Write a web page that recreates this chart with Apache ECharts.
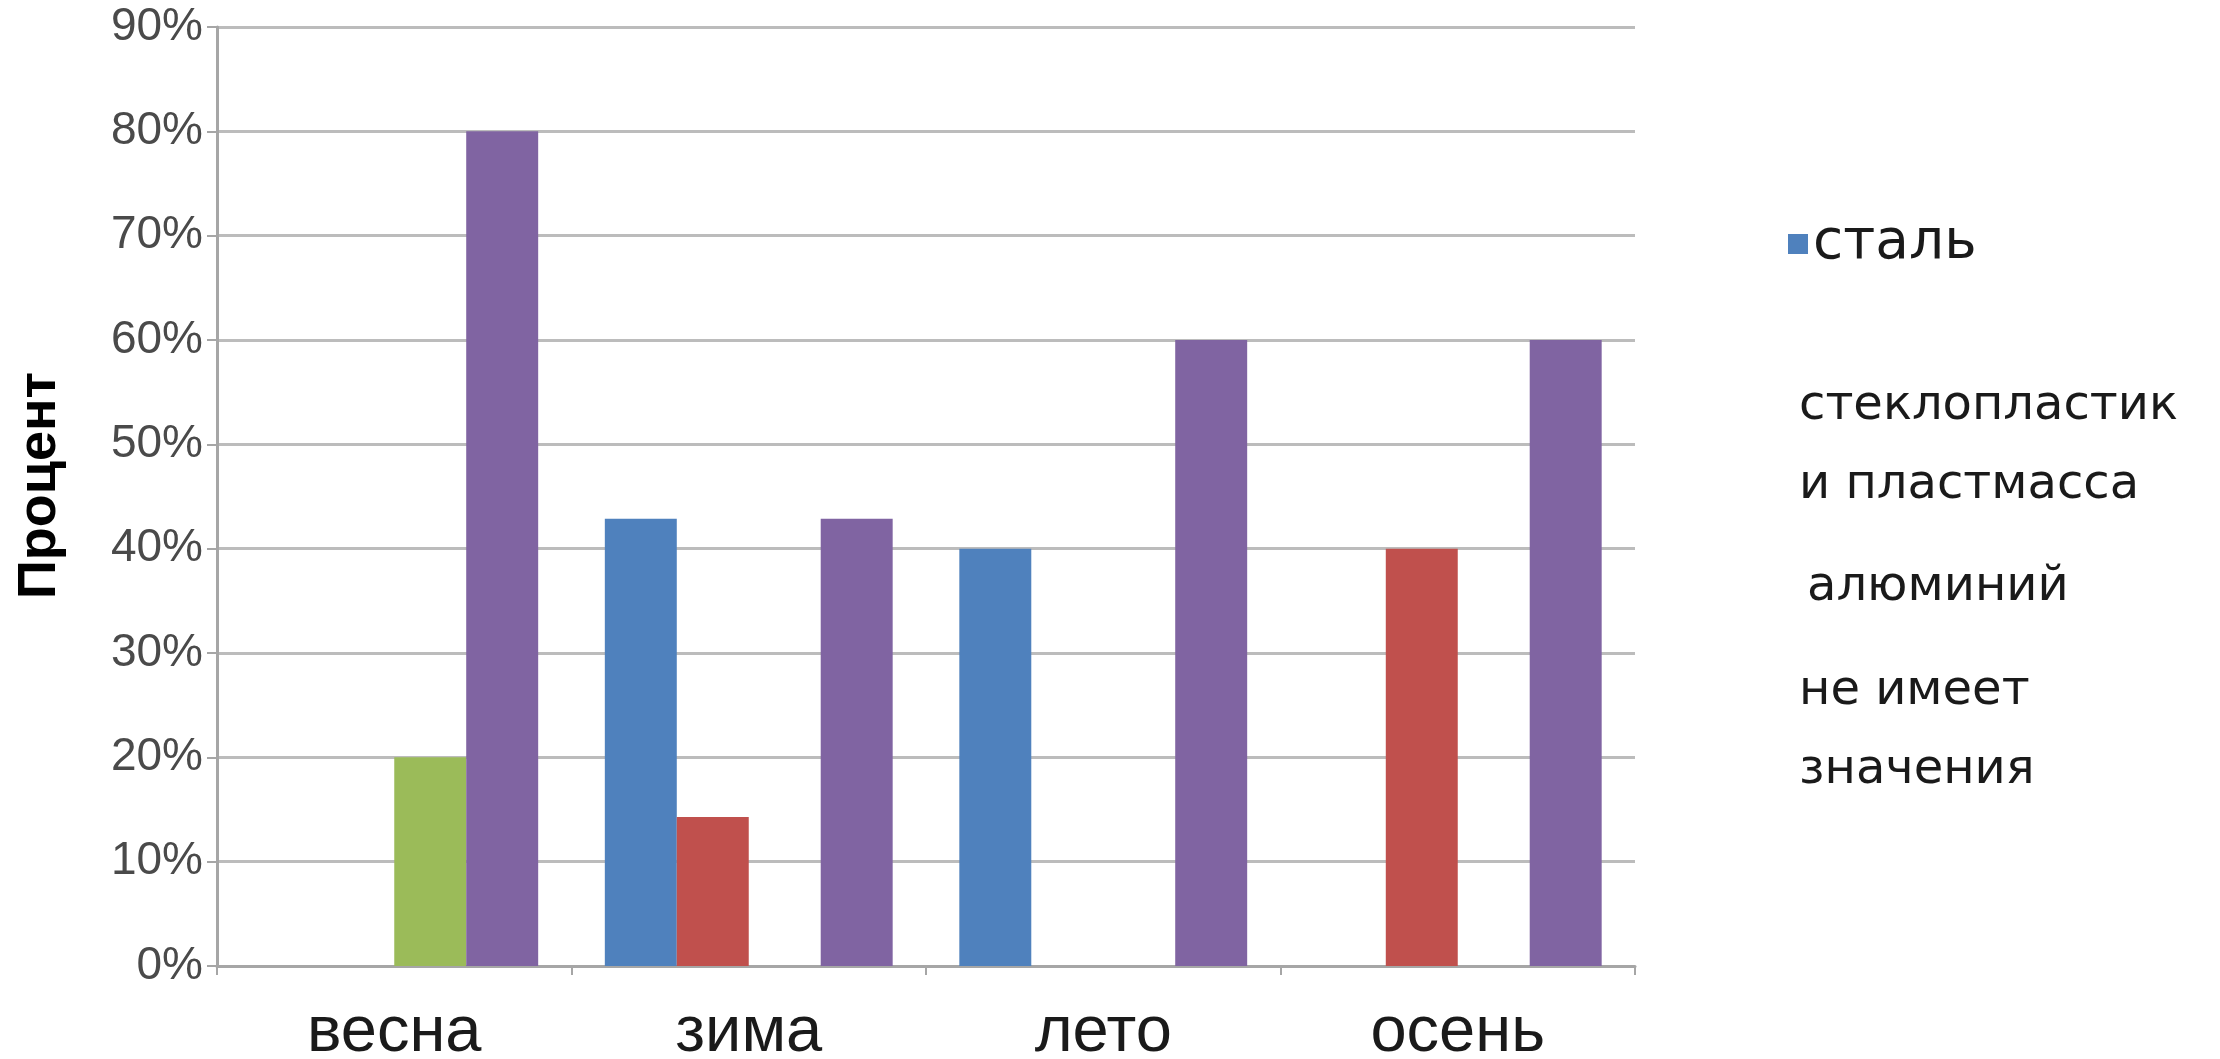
<!DOCTYPE html>
<html>
<head>
<meta charset="utf-8">
<script src="https://cdn.jsdelivr.net/npm/echarts@6/dist/echarts.min.js"></script>
<style>
html,body{margin:0;padding:0;background:#fff;}
#chart{width:2220px;height:1059px;}
</style>
</head>
<body>
<div id="chart"></div>
<script>
// ---- data ----
const categories = ['весна', 'зима', 'лето', 'осень'];
const seriesNames = ['сталь', 'стеклопластик и пластмасса', 'алюминий', 'не имеет значения'];
const steel = [0, 42.86, 40, 0];
const fiberglassPlastic = [0, 14.29, 0, 40];
const aluminium = [20, 0, 0, 0];
const noMatter = [80, 42.86, 60, 60];
const yTicks = [0, 10, 20, 30, 40, 50, 60, 70, 80, 90];

// ---- style ----
const colors = ['#4f81bd', '#c0504d', '#9bbb59', '#8064a2'];
const legendDisplay = {
  'сталь': 'сталь',
  'стеклопластик и пластмасса': 'стеклопластик\nи пластмасса',
  'алюминий': 'алюминий',
  'не имеет значения': 'не имеет\nзначения'
};

const values = [steel, fiberglassPlastic, aluminium, noMatter];
const series = seriesNames.map((n, i) => ({
  name: n,
  type: 'bar',
  data: values[i],
  barGap: '0%',
  barCategoryGap: '18.8%',
  itemStyle: { color: colors[i], borderWidth: 0 },
  emphasis: { disabled: true }
}));

const legendText = { fontFamily: 'DejaVu Sans', fontSize: 48, color: '#1a1a1a', lineHeight: 79 };
const hiddenIcon = { color: 'rgba(0,0,0,0)', borderWidth: 0, opacity: 0 };

const legends = [
  {
    left: 1788, top: 197, padding: 0,
    itemWidth: 20, itemHeight: 20,
    selectedMode: false,
    data: [{ name: seriesNames[0], icon: 'rect' }],
    formatter: n => legendDisplay[n],
    textStyle: { fontFamily: 'DejaVu Sans', fontSize: 55, color: '#1a1a1a', lineHeight: 66, padding: [28, 0, 0, 0] }
  },
  {
    left: 1784, top: 367, padding: 0,
    itemWidth: 10, itemHeight: 10,
    selectedMode: false,
    data: [{ name: seriesNames[1], icon: 'rect', itemStyle: hiddenIcon }],
    formatter: n => legendDisplay[n],
    textStyle: legendText
  },
  {
    left: 1792, top: 548, padding: 0,
    itemWidth: 10, itemHeight: 10,
    selectedMode: false,
    data: [{ name: seriesNames[2], icon: 'rect', itemStyle: hiddenIcon }],
    formatter: n => legendDisplay[n],
    textStyle: legendText
  },
  {
    left: 1784, top: 652, padding: 0,
    itemWidth: 10, itemHeight: 10,
    selectedMode: false,
    data: [{ name: seriesNames[3], icon: 'rect', itemStyle: hiddenIcon }],
    formatter: n => legendDisplay[n],
    textStyle: legendText
  }
];

const axisGray = '#a6a6a6';
const option = {
  animation: false,
  backgroundColor: '#ffffff',
  color: colors,
  grid: { left: 217, right: 585, top: 27, bottom: 93, containLabel: false, outerBoundsMode: 'none' },
  legend: legends,
  xAxis: {
    type: 'category',
    data: categories,
    axisLine: { show: true, lineStyle: { color: axisGray, width: 3 } },
    axisTick: { show: true, length: 9, lineStyle: { color: axisGray, width: 2 } },
    axisLabel: {
      interval: 0,
      margin: 35,
      fontFamily: "'Liberation Sans', sans-serif",
      fontSize: 65,
      color: '#1a1a1a'
    },
    splitLine: { show: false }
  },
  yAxis: {
    type: 'value',
    min: 0,
    max: 90,
    interval: 10,
    name: 'Процент',
    nameLocation: 'middle',
    nameGap: 150,
    nameTextStyle: {
      fontFamily: 'Liberation Sans',
      fontWeight: 'bold',
      fontSize: 54,
      color: '#000000',
      padding: [0, 0, 0, 22]
    },
    axisLine: { show: true, lineStyle: { color: axisGray, width: 3 } },
    axisTick: { show: true, length: 10, lineStyle: { color: axisGray, width: 2 } },
    axisLabel: {
      margin: 14,
      fontFamily: 'Liberation Sans',
      fontSize: 46,
      color: '#4a4a4a',
      formatter: v => (yTicks.indexOf(v) >= 0 ? v + '%' : '')
    },
    splitLine: { show: true, lineStyle: { color: '#bcbcbc', width: 3 } }
  },
  series: series
};

const chart = echarts.init(document.getElementById('chart'), null, { renderer: 'canvas' });
chart.setOption(option);
</script>
</body>
</html>
